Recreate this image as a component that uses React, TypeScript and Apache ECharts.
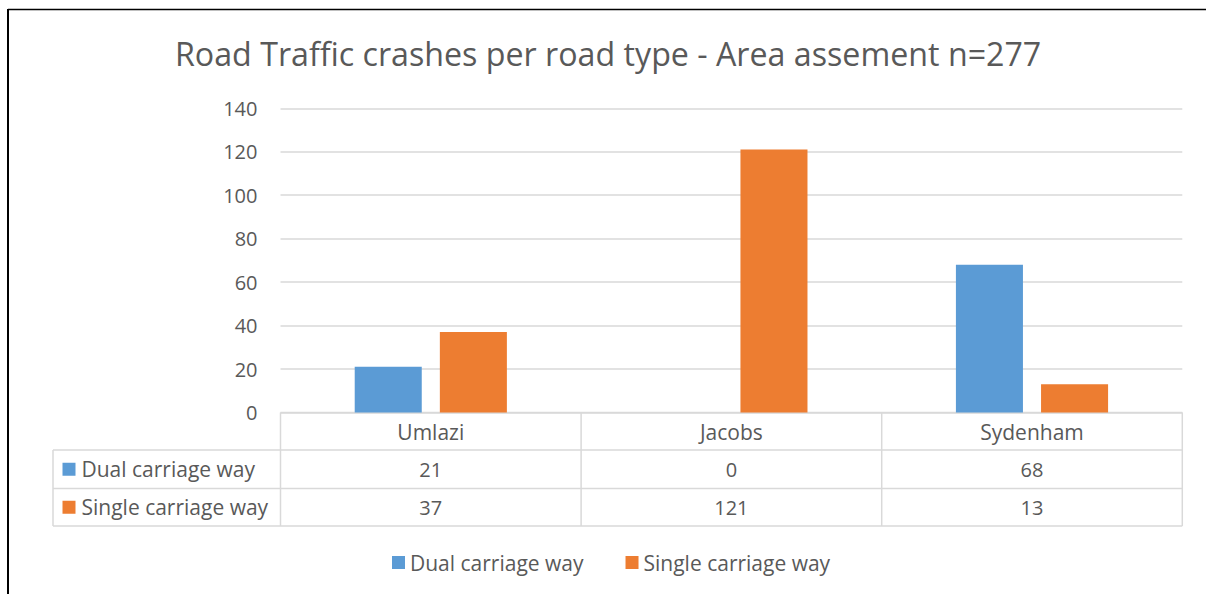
import React, { useEffect, useRef } from "react";
import * as echarts from "echarts";

const titleText = "Road Traffic crashes per road type - Area assement n=277";
const categories = ["Umlazi", "Jacobs", "Sydenham"];
const seriesNames = ["Dual carriage way", "Single carriage way"];
const dualValues = [21, 0, 68];
const singleValues = [37, 121, 13];
const seriesColors = ["#5B9BD5", "#ED7D31"];
const yMin = 0;
const yMax = 140;
const yInterval = 20;

const FONT = "'Open Sans', 'DejaVu Sans', sans-serif";
const TEXT = "#595959";
const LINE = "#D9D9D9";

const W = 1206;
const H = 594;
const GRID_LEFT = 280.5;
const GRID_RIGHT_X = 1182.3;
const GRID_TOP = 108.3;
const GRID_BOTTOM_Y = 412.5;
const ROW_Y = [412.5, 450, 488.5, 526];
const TABLE_LEFT = 53;

export default function App() {
  const ref = useRef<HTMLDivElement>(null);
  useEffect(() => {
    const el = ref.current!;
    const chart = echarts.init(el, null, { renderer: "svg" });
    const allSeries = [dualValues, singleValues];
    chart.setOption({
      animation: false,
      backgroundColor: "#ffffff",
      textStyle: { fontFamily: FONT },
      title: {
        text: titleText,
        left: 175,
        top: 37,
        padding: 0,
        textStyle: { fontFamily: FONT, fontSize: 32.2, fontWeight: "normal", color: TEXT },
      },
      grid: {
        left: GRID_LEFT,
        right: W - GRID_RIGHT_X,
        top: GRID_TOP,
        bottom: H - GRID_BOTTOM_Y,
        containLabel: false,
      },
      legend: {
        data: seriesNames,
        left: 392,
        top: 552,
        padding: 0,
        icon: "rect",
        itemWidth: 13,
        itemHeight: 13,
        itemGap: 42,
        textStyle: { fontFamily: FONT, fontSize: 21, color: TEXT },
      },
      xAxis: {
        type: "category",
        data: categories,
        axisLine: { show: false },
        axisTick: { show: false },
        axisLabel: {
          fontFamily: FONT,
          fontSize: 21,
          color: TEXT,
          margin: 19,
          verticalAlign: "middle",
        },
      },
      yAxis: {
        type: "value",
        min: yMin,
        max: yMax,
        interval: yInterval,
        axisLine: { show: false },
        axisTick: { show: false },
        axisLabel: { fontFamily: FONT, fontSize: 20, color: TEXT, margin: 23 },
        splitLine: { lineStyle: { color: LINE, width: 1.5 } },
      },
      series: seriesNames.map((name, si) => ({
        type: "bar",
        name,
        data: allSeries[si],
        barWidth: "22.3%",
        barGap: "27%",
        itemStyle: { color: seriesColors[si] },
      })),
    });

    // Build the data table under the axis from the data arrays
    const centers = categories.map((_, i) =>
      chart.convertToPixel({ xAxisIndex: 0 }, i) as number
    );
    const colW = centers.length > 1 ? centers[1] - centers[0] : 300;
    const bounds = [centers[0] - colW / 2, ...centers.map((c) => c + colW / 2)];
    const lineStyle = { stroke: LINE, lineWidth: 1.5 };
    const g: any[] = [];
    // border of the chart area
    g.push({ type: "line", shape: { x1: 8, y1: 9.5, x2: W, y2: 9.5 }, style: { stroke: "#000", lineWidth: 1.5 } });
    g.push({ type: "line", shape: { x1: 8, y1: 9, x2: 8, y2: H }, style: { stroke: "#000", lineWidth: 2 } });
    // horizontal table lines
    g.push({ type: "line", shape: { x1: bounds[0], y1: ROW_Y[0], x2: bounds[3], y2: ROW_Y[0] }, style: lineStyle });
    for (let r = 1; r < ROW_Y.length; r++) {
      g.push({ type: "line", shape: { x1: TABLE_LEFT, y1: ROW_Y[r], x2: bounds[3], y2: ROW_Y[r] }, style: lineStyle });
    }
    // vertical table lines
    bounds.forEach((x) => {
      g.push({ type: "line", shape: { x1: x, y1: ROW_Y[0], x2: x, y2: ROW_Y[3] }, style: lineStyle });
    });
    g.push({ type: "line", shape: { x1: TABLE_LEFT, y1: ROW_Y[1], x2: TABLE_LEFT, y2: ROW_Y[3] }, style: lineStyle });
    // row labels + values
    seriesNames.forEach((name, si) => {
      const cy = (ROW_Y[si + 1] + ROW_Y[si + 2]) / 2;
      g.push({ type: "rect", shape: { x: 62.5, y: cy - 6.5, width: 13, height: 13 }, style: { fill: seriesColors[si] } });
      g.push({
        type: "text",
        x: 81.5,
        y: cy,
        style: { text: name, fontFamily: FONT, fontSize: 21, fill: TEXT, textAlign: "left", textVerticalAlign: "middle" },
      });
      allSeries[si].forEach((v, ci) => {
        g.push({
          type: "text",
          x: centers[ci],
          y: cy,
          style: { text: String(v), fontFamily: FONT, fontSize: 20, fill: TEXT, textAlign: "center", textVerticalAlign: "middle" },
        });
      });
    });
    chart.setOption({ graphic: g });

    return () => chart.dispose();
  }, []);
  return (
    <div
      ref={ref}
      style={{ position: "absolute", left: 0, top: 0, width: W, height: H }}
    />
  );
}
